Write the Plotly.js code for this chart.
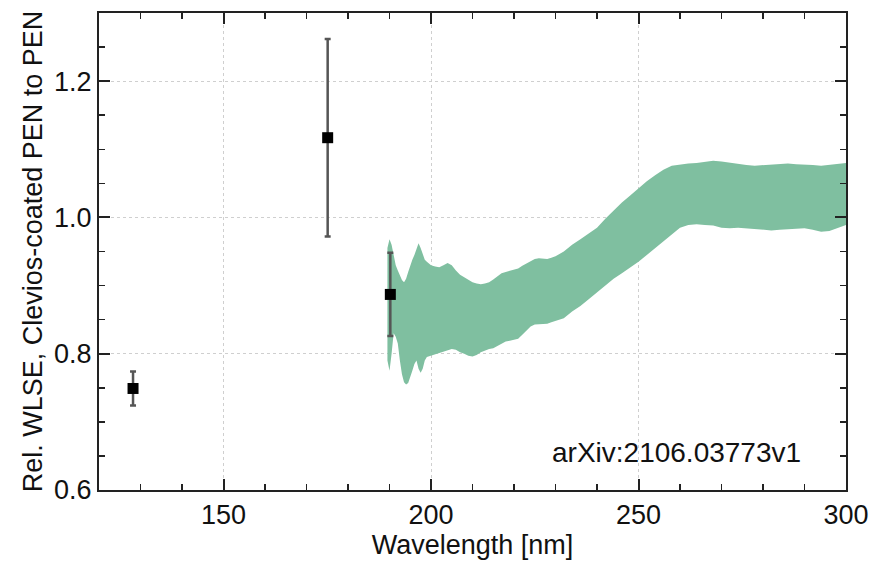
<!DOCTYPE html>
<html>
<head>
<meta charset="utf-8">
<script src="https://cdn.plot.ly/plotly-3.0.1.min.js"></script>
<style>html,body{margin:0;padding:0;background:#fff;}#chart{width:871px;height:561px;}</style>
</head>
<body>
<div id="chart"></div>
<script>
// Measured points (Rel. WLSE) with symmetric error bars
const pointWavelengths = [128.2, 175.1, 190.2];
const pointValues = [0.749, 1.117, 0.887];
const pointErrors = [0.025, 0.145, 0.061];

// Uncertainty band (upper / lower boundaries)
const bandWavelengths = [189.5,190.0,190.5,191.0,191.5,192.0,192.5,193.0,193.5,194.0,194.5,195.0,195.5,196.0,196.5,197.0,197.5,198.0,198.5,199.0,
  200,201,202,203,204,205,206,207,208,209,210,211,212,213,214,215,216,217,218,219,220,221,222,223,224,225,226,227,228,229,230,
  232,234,236,238,240,242,244,246,248,250,252,254,256,258,260,262,264,266,268,270,272,274,276,278,280,282,284,286,288,290,292,294,296,298,300];
const bandUpper = [0.955,0.968,0.960,0.945,0.930,0.922,0.915,0.908,0.905,0.910,0.920,0.930,0.938,0.945,0.955,0.962,0.955,0.945,0.938,0.935,
  0.930,0.928,0.927,0.930,0.933,0.930,0.922,0.916,0.912,0.908,0.905,0.903,0.902,0.903,0.905,0.909,0.913,0.918,0.920,0.922,0.924,0.925,0.929,0.932,0.936,0.939,0.940,0.939,0.939,0.941,0.943,
  0.950,0.960,0.968,0.976,0.985,0.998,1.010,1.022,1.032,1.043,1.053,1.062,1.070,1.076,1.078,1.079,1.080,1.082,1.083,1.082,1.080,1.079,1.077,1.076,1.077,1.078,1.079,1.079,1.078,1.078,1.077,1.076,1.077,1.078,1.080];
const bandLower = [0.790,0.775,0.800,0.830,0.825,0.815,0.790,0.770,0.758,0.755,0.757,0.765,0.775,0.785,0.790,0.778,0.772,0.778,0.790,0.795,
  0.797,0.800,0.802,0.803,0.805,0.807,0.806,0.802,0.800,0.797,0.796,0.798,0.802,0.805,0.807,0.808,0.811,0.815,0.818,0.819,0.820,0.822,0.828,0.834,0.840,0.843,0.843,0.843,0.844,0.846,0.848,
  0.852,0.862,0.870,0.880,0.890,0.900,0.910,0.918,0.926,0.935,0.945,0.955,0.965,0.975,0.985,0.989,0.990,0.989,0.988,0.985,0.984,0.985,0.984,0.983,0.982,0.981,0.982,0.983,0.983,0.984,0.982,0.979,0.980,0.985,0.989];

// Axis ticks
const xTickVals = [150, 200, 250, 300];
const yTickVals = [0.6, 0.8, 1.0, 1.2];
const yTickText = ['0.6', '0.8', '1.0', '1.2'];

const bandColor = '#7fbfa0';
const fontFamily = 'Arial, "Liberation Sans", Helvetica, sans-serif';

const traces = [
  {x: bandWavelengths, y: bandLower, type: 'scatter', mode: 'lines',
   line: {width: 0, color: bandColor}, hoverinfo: 'skip', showlegend: false},
  {x: bandWavelengths, y: bandUpper, type: 'scatter', mode: 'lines', fill: 'tonexty',
   fillcolor: bandColor, line: {width: 0, color: bandColor}, showlegend: false},
  {x: pointWavelengths, y: pointValues, type: 'scatter', mode: 'markers',
   marker: {symbol: 'square', size: 11, color: '#000'},
   error_y: {type: 'data', array: pointErrors, visible: true, color: '#555', thickness: 2.5, width: 3},
   showlegend: false}
];

const axisCommon = {
  showline: true, linecolor: '#222', linewidth: 2, mirror: 'allticks',
  ticks: 'inside', ticklen: 11, tickwidth: 2, tickcolor: '#222',
  showgrid: true, gridcolor: '#cfcfcf', griddash: 'dot', gridwidth: 1,
  zeroline: false, tickfont: {family: fontFamily, size: 27, color: '#111'}
};

const layout = {
  width: 871, height: 561,
  margin: {l: 99, r: 25, t: 13, b: 71},
  paper_bgcolor: '#fff', plot_bgcolor: '#fff',
  showlegend: false,
  xaxis: Object.assign({}, axisCommon, {
    range: [120, 300], tickvals: xTickVals,
    minor: {dtick: 10, tick0: 0, ticks: 'inside', ticklen: 6, tickwidth: 1.5, tickcolor: '#222', showgrid: false},
    title: {text: 'Wavelength [nm]', font: {family: fontFamily, size: 27, color: '#111'}, standoff: 0}
  }),
  yaxis: Object.assign({}, axisCommon, {
    range: [0.6, 1.3], tickvals: yTickVals, ticktext: yTickText,
    minor: {dtick: 0.05, tick0: 0, ticks: 'inside', ticklen: 6, tickwidth: 1.5, tickcolor: '#222', showgrid: false},
    title: {text: 'Rel. WLSE, Clevios-coated PEN to PEN', font: {family: fontFamily, size: 27, color: '#111'}, standoff: 4}
  }),
  annotations: [{
    x: 228.6, y: 0.655, xref: 'x', yref: 'y', xanchor: 'left', yanchor: 'middle',
    text: 'arXiv:2106.03773v1', showarrow: false,
    font: {family: fontFamily, size: 28, color: '#111'}
  }]
};

Plotly.newPlot('chart', traces, layout, {displayModeBar: false, staticPlot: true});
</script>
</body>
</html>
